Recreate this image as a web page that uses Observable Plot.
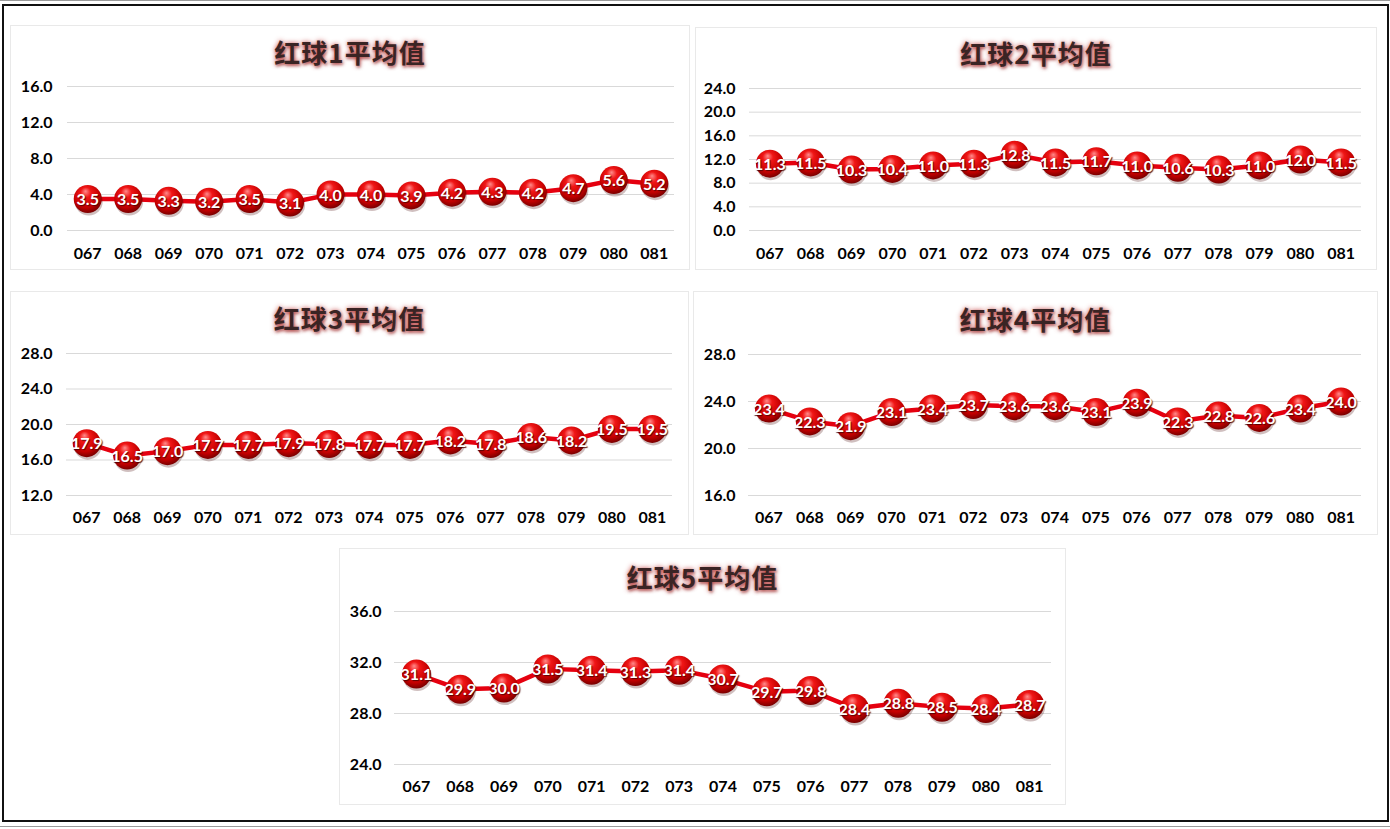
<!DOCTYPE html>
<html><head><meta charset="utf-8">
<script src="https://cdn.jsdelivr.net/npm/d3@7"></script>
<script src="https://cdn.jsdelivr.net/npm/@observablehq/plot@0.6"></script>
<style>
html,body{margin:0;padding:0;background:#fff;}
body{width:1390px;height:829px;position:relative;overflow:hidden;font-family:Lato,"Noto Sans",sans-serif;}
.topline{position:absolute;left:0;top:0;width:1390px;height:1px;background:#9a9a9a;}
.botline{position:absolute;left:0;top:826px;width:1390px;height:1px;background:#9a9a9a;}
.frame{position:absolute;left:2px;top:4px;width:1387px;height:818px;border:2px solid #111;box-sizing:border-box;}
.panel{position:absolute;border:1px solid #e9e9e9;box-sizing:border-box;background:#fff;}
.title{position:absolute;left:0;right:0;text-align:center;font-family:"Noto Sans CJK SC",sans-serif;font-weight:700;font-size:26px;letter-spacing:1px;color:#3a2424;line-height:30px;
  text-shadow:0 0 5px rgba(190,40,40,.8),1px 2px 3px rgba(120,0,0,.5);}
.panel svg{position:absolute;left:0;}
</style></head><body>
<div class="topline"></div>
<div class="frame"></div>
<div class="botline"></div>
<script>
// ---- data ----
const periods = ["067","068","069","070","071","072","073","074","075","076","077","078","079","080","081"];
const ball1 = [3.5,3.5,3.3,3.2,3.5,3.1,4.0,4.0,3.9,4.2,4.3,4.2,4.7,5.6,5.2];
const ball2 = [11.3,11.5,10.3,10.4,11.0,11.3,12.8,11.5,11.7,11.0,10.6,10.3,11.0,12.0,11.5];
const ball3 = [17.9,16.5,17.0,17.7,17.7,17.9,17.8,17.7,17.7,18.2,17.8,18.6,18.2,19.5,19.5];
const ball4 = [23.4,22.3,21.9,23.1,23.4,23.7,23.6,23.6,23.1,23.9,22.3,22.8,22.6,23.4,24.0];
const ball5 = [31.1,29.9,30.0,31.5,31.4,31.3,31.4,30.7,29.7,29.8,28.4,28.8,28.5,28.4,28.7];
const titles = ["红球1平均值","红球2平均值","红球3平均值","红球4平均值","红球5平均值"];
const yTicks1 = [0,4,8,12,16];
const yTicks2 = [0,4,8,12,16,20,24];
const yTicks3 = [12,16,20,24,28];
const yTicks4 = [16,20,24,28];
const yTicks5 = [24,28,32,36];

// ---- layout (page pixel positions) ----
const layouts = [
  {left:10, top:25, w:680, h:245, titleY:52, gridL:67, gridR:674, yTop:86, yBottom:230, xLabelY:253, labelRight:52, r:14},
  {left:695, top:27, w:682, h:243, titleY:53, gridL:749, gridR:1361, yTop:88, yBottom:230, xLabelY:253, labelRight:735, r:14},
  {left:10, top:291, w:679, h:244, titleY:318, gridL:66, gridR:672, yTop:353, yBottom:495, xLabelY:517, labelRight:52, r:14},
  {left:693, top:291, w:685, h:244, titleY:319, gridL:748, gridR:1361, yTop:354, yBottom:495, xLabelY:517, labelRight:735, r:14},
  {left:339, top:548, w:727, h:257, titleY:577, gridL:394, gridR:1051, yTop:611, yBottom:764, xLabelY:786, labelRight:381, r:14.5}
];
const series = [ball1, ball2, ball3, ball4, ball5];
const tickSets = [yTicks1, yTicks2, yTicks3, yTicks4, yTicks5];

function makePanel(idx){
  const cfg = layouts[idx], values = series[idx], ticks = tickSets[idx];
  const div = document.createElement("div");
  div.className = "panel";
  Object.assign(div.style, {left:cfg.left+"px", top:cfg.top+"px", width:cfg.w+"px", height:cfg.h+"px"});
  const t = document.createElement("div");
  t.className = "title";
  t.textContent = titles[idx];
  t.style.top = (cfg.titleY - cfg.top - 1 - 15) + "px";
  div.appendChild(t);

  const T = 45;
  const ox = cfg.left + 1, oy = cfg.top + 1 + T;
  const W = cfg.w - 2, H = cfg.h - 2 - T;
  const data = periods.map((p, i) => ({p, v: values[i]}));
  const gid = "ball" + idx;
  const chart = Plot.plot({
    width: W, height: H,
    marginLeft: cfg.gridL - ox, marginRight: ox + W - cfg.gridR,
    marginTop: cfg.yTop - oy, marginBottom: oy + H - cfg.yBottom,
    style: {fontFamily: "Lato, 'Noto Sans', sans-serif", fontSize: "16px", fontWeight: "700", background: "transparent", overflow: "visible", color: "#000"},
    x: {type: "point", domain: periods, padding: 0.5, round: false},
    y: {domain: [ticks[0], ticks[ticks.length - 1]]},
    marks: [
      Plot.ruleY(ticks, {stroke: "#d9d9d9", strokeWidth: 1}),
      Plot.axisY(ticks, {tickSize: 0, tickPadding: cfg.gridL - cfg.labelRight, tickFormat: d3.format(".1f"), label: null, fill: "#000", fontSize: 16}),
      Plot.axisX({tickSize: 0, tickPadding: cfg.xLabelY - cfg.yBottom - 6, label: null, fill: "#000", fontSize: 16}),
      Plot.line(data, {x: "p", y: "v", stroke: "#e5000f", strokeWidth: 4.5, curve: "linear"}),
      Plot.dot(data, {x: "p", y: "v", r: cfg.r, fill: "#400", fillOpacity: 0.25, dx: 1, dy: 2.5}),
      Plot.dot(data, {x: "p", y: "v", r: cfg.r, fill: `url(#${gid})`}),
      Plot.text(data, {x: "p", y: "v", text: d => d.v.toFixed(1), fill: "#fff", fontSize: 16, fontWeight: 700, dy: 1})
    ]
  });
  const svg = d3.select(chart);
  const defs = svg.insert("defs", ":first-child");
  const g = defs.append("radialGradient").attr("id", gid)
    .attr("cx", "45%").attr("cy", "38%").attr("r", "62%").attr("fx", "42%").attr("fy", "22%");
  g.append("stop").attr("offset", "0%").attr("stop-color", "#ff8a8a");
  g.append("stop").attr("offset", "30%").attr("stop-color", "#f01616");
  g.append("stop").attr("offset", "75%").attr("stop-color", "#c40000");
  g.append("stop").attr("offset", "100%").attr("stop-color", "#7a0000");
  svg.selectAll('g[aria-label="text"] text').style("text-shadow", "1px 1px 1px rgba(70,0,0,0.85)");
  chart.style.top = T + "px";
  div.appendChild(chart);
  document.body.appendChild(div);
}
for (let i = 0; i < 5; i++) makePanel(i);
</script>
</body></html>
